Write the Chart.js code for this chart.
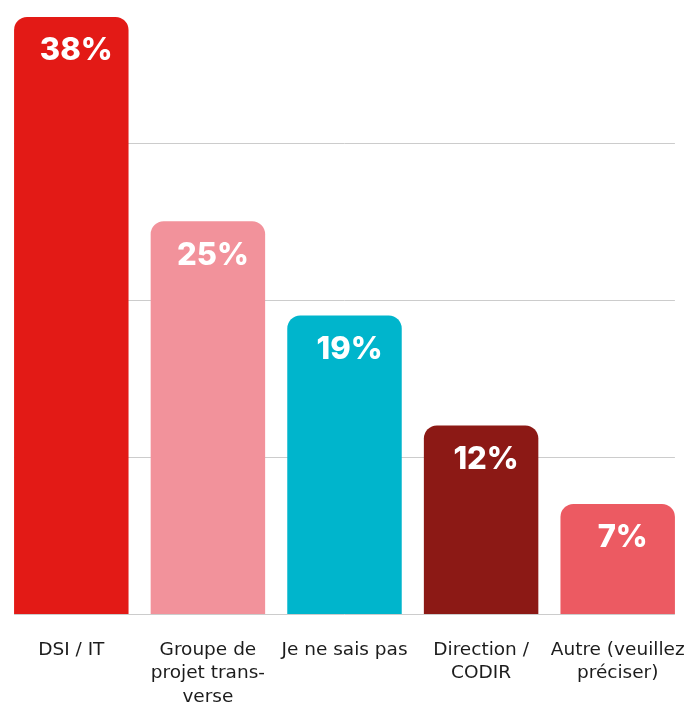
<!DOCTYPE html>
<html>
<head>
<meta charset="utf-8">
<script src="https://cdn.jsdelivr.net/npm/chart.js@4/dist/chart.umd.min.js"></script>
<style>
  html, body { margin: 0; padding: 0; background: #ffffff; }
  #wrap { width: 699px; height: 705px; position: relative; }
</style>
</head>
<body>
<div id="wrap"><canvas id="c"></canvas></div>
<script>
// Survey answers (share of respondents, %)
const categories = [
  ["DSI / IT"],
  ["Groupe de", "projet trans-", "verse"],
  ["Je ne sais pas"],
  ["Direction /", "CODIR"],
  ["Autre (veuillez", "préciser)"]
];
const values = [38, 25, 19, 12, 7];
const valueLabels = ["38%", "25%", "19%", "12%", "7%"];
const barColors = ["#E31A16", "#F2929B", "#00B5CC", "#8C1915", "#EC5A62"];
const gridValues = [0, 10, 20, 30];

// Horizontal guide lines spanning from the first bar to the last bar
const guideLines = {
  id: 'guideLines',
  beforeDatasetsDraw(chart) {
    const ctx = chart.ctx;
    const y = chart.scales.y;
    const bars = chart.getDatasetMeta(0).data;
    const first = bars[0], last = bars[bars.length - 1];
    const x0 = first.x - first.width / 2;
    const x1 = last.x + last.width / 2;
    ctx.save();
    ctx.strokeStyle = '#cccccc';
    ctx.lineWidth = 1;
    gridValues.forEach(v => {
      const py = Math.round(y.getPixelForValue(v)) + 0.5;
      ctx.beginPath();
      ctx.moveTo(x0, py);
      ctx.lineTo(x1, py);
      ctx.stroke();
    });
    ctx.restore();
  }
};

// Value labels printed in white near the top of each bar
const barValueLabels = {
  id: 'barValueLabels',
  afterDatasetsDraw(chart) {
    const ctx = chart.ctx;
    const bars = chart.getDatasetMeta(0).data;
    ctx.save();
    ctx.fillStyle = '#ffffff';
    ctx.font = '800 31px Inter, "Open Sans", sans-serif';
    ctx.textAlign = 'center';
    ctx.textBaseline = 'middle';
    bars.forEach((bar, i) => {
      ctx.fillText(valueLabels[i], bar.x + 5, bar.y + 34);
    });
    ctx.restore();
  }
};

new Chart(document.getElementById('c'), {
  type: 'bar',
  data: {
    labels: categories,
    datasets: [{
      data: values,
      backgroundColor: barColors,
      borderWidth: 0,
      borderRadius: { topLeft: 13, topRight: 13, bottomLeft: 0, bottomRight: 0 },
      borderSkipped: 'start',
      categoryPercentage: 1,
      barPercentage: 0.838
    }]
  },
  options: {
    responsive: true,
    maintainAspectRatio: false,
    animation: false,
    events: [],
    layout: { padding: { left: 3, right: 13, top: 17, bottom: 0 } },
    plugins: {
      legend: { display: false },
      tooltip: { enabled: false }
    },
    scales: {
      x: {
        grid: { display: false, drawTicks: false },
        border: { display: false },
        ticks: {
          color: '#1c1c1c',
          font: { family: '"DejaVu Sans", sans-serif', size: 18.5, lineHeight: 1.27 },
          padding: 24,
          maxRotation: 0,
          autoSkip: false
        },
        afterFit(scale) {
          scale.height = 91;
          // labels may overhang the plot edges; keep the plot width fixed
          scale.paddingLeft = 0;
          scale.paddingRight = 0;
        }
      },
      y: {
        display: false,
        min: 0,
        max: 38
      }
    }
  },
  plugins: [guideLines, barValueLabels]
});
</script>
</body>
</html>
